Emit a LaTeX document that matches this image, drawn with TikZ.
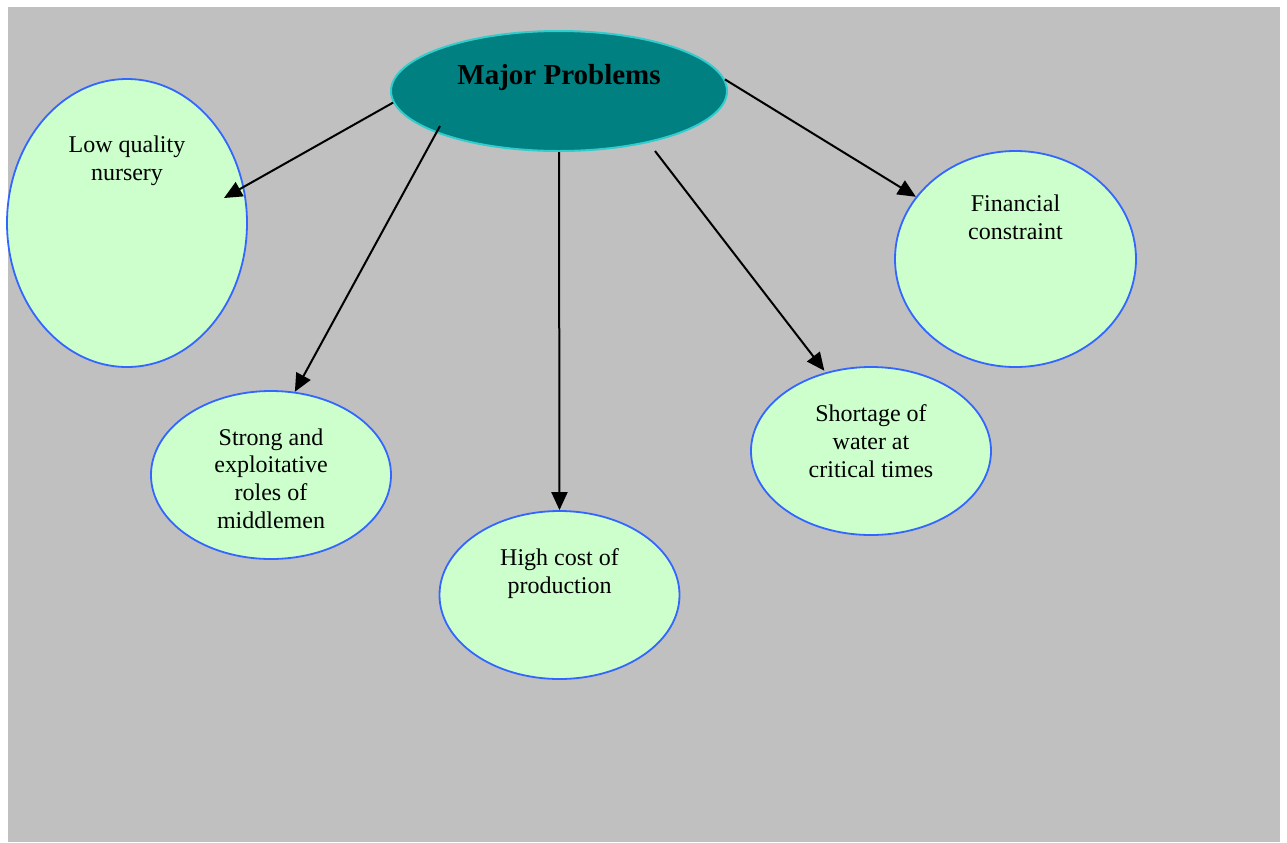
\documentclass[tikz,border=0pt]{standalone}
\usepackage{fontspec}
\setmainfont{Liberation Serif}
\usetikzlibrary{arrows.meta,shapes.geometric}
\definecolor{panelgray}{HTML}{C0C0C0}
\definecolor{hubteal}{HTML}{008080}
\definecolor{hubrim}{HTML}{33CCCC}
\definecolor{leafgreen}{HTML}{CCFFCC}
\definecolor{leafrim}{HTML}{3366FF}

\begin{document}
\begin{tikzpicture}[
    x=0.5pt, y=-0.5pt,
    >={Triangle[length=9pt, width=8pt]},
    font={\fontsize{12}{13.8}\selectfont},
    hub/.style={ellipse, draw=hubrim, line width=1pt, fill=hubteal, inner sep=0pt},
    leaf/.style={ellipse, draw=leafrim, line width=0.9pt, fill=leafgreen, inner sep=0pt},
    caption/.style={anchor=base, align=center, inner sep=0pt, text=black},
    link/.style={black, line width=1pt, ->}
]

% -------- canvas (pixel units, y down) --------
\useasboundingbox (0,0) rectangle (1287,842);
\fill[panelgray] (8,7) rectangle (1280,842);

% ================================================================
% HUB AND LEAVES  (captions sit on their last baseline)
% ================================================================
\node[hub, minimum width=168pt, minimum height=60pt] (major) at (559,91) {};
\node[caption, font={\fontsize{14.5}{17}\selectfont\bfseries}] (majortxt) at (559,84) {Major Problems};

\node[leaf, minimum width=120pt, minimum height=144pt] (nursery) at (127,223) {};
\node[caption] (nurserytxt) at (127,180) {Low quality\\nursery};

\node[leaf, minimum width=120pt, minimum height=84pt] (strong) at (271,475) {};
\node[caption] (strongtxt) at (271,528) {Strong and\\exploitative\\roles of\\middlemen};

\node[leaf, minimum width=120pt, minimum height=84pt] (cost) at (559.5,595) {};
\node[caption] (costtxt) at (559.5,593) {High cost of\\production};

\node[leaf, minimum width=120pt, minimum height=84pt] (shortage) at (871,451) {};
\node[caption] (shortagetxt) at (871,477) {Shortage of\\water at\\critical times};

\node[leaf, minimum width=120.5pt, minimum height=108pt] (fin) at (1015.5,259) {};
\node[caption] (fintxt) at (1015.5,239) {Financial\\constraint};

% ================================================================
% CONNECTORS
% ================================================================
\coordinate (nurserytip) at (224,198);
\coordinate (strongfrom) at (440,126);
\coordinate (shortagefrom) at (655,151);

\draw[link] (major.184) -- (nurserytip);
\draw[link] (strongfrom) -- (strong.74);
\draw[link] (major.south) -- (cost.north);
\draw[link, shorten >=1pt] (shortagefrom) -- (shortage.120);
\draw[link] (major.4) -- (fin.148);

\end{tikzpicture}
\end{document}
